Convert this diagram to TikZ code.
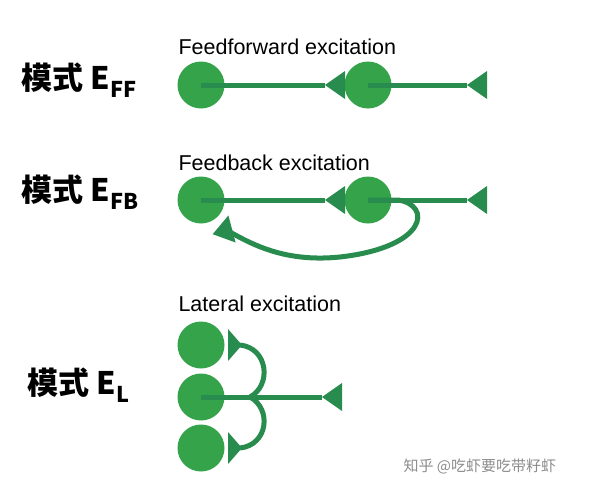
\documentclass[tikz,border=0pt]{standalone}
\usepackage{fontspec}
\setmainfont{Liberation Sans}
\newfontfamily\cjk{Noto Sans CJK SC}
\usetikzlibrary{positioning}
\definecolor{cellgreen}{RGB}{52,163,74}
\definecolor{axongreen}{RGB}{40,140,78}
\newcommand\synapse[2]{\fill[axongreen,shift={(#1)},rotate=#2] (0,-14) -- (0,14) -- (-20,0) -- cycle;}
\newcommand\lsynapse[2]{\fill[axongreen,shift={(#1)},rotate=#2] (0,-16) -- (0,16) -- (-14,0) -- cycle;}
\begin{document}
\begin{tikzpicture}[x=1pt,y=-1pt,
        cell/.style={circle,fill=cellgreen,minimum size=47pt,inner sep=0pt},
        axon/.style={draw=axongreen,line width=5pt},
        title/.style={anchor=west,font=\fontsize{21.5}{24}\selectfont},
        mode/.style={anchor=west,font=\cjk\bfseries\fontsize{31}{33}\selectfont}]
\useasboundingbox (0,0) rectangle (600,493);

% feedforward
\node[title] (tff) at (175,47) {Feedforward excitation};
\node[mode] (mff) at (18,80) {模式 E\textsubscript{FF}};
\node[cell] (ff1) at (201,85) {};
\node[cell] (ff2) at (368,85) {};
\coordinate (ffs1) at (345,85);
\coordinate (ffs2) at (487,85);
\draw[axon] (ff1.center) -- ++(124,0);
\draw[axon] (ff2.center) -- ++(99,0);
\synapse{ffs1}{0}
\synapse{ffs2}{0}

% feedback
\node[title] (tfb) at (175,163) {Feedback excitation};
\node[mode] (mfb) at (18,192) {模式 E\textsubscript{FB}};
\node[cell] (fb1) at (201,200) {};
\node[cell] (fb2) at (368,200) {};
\coordinate (fbs1) at (345,200);
\coordinate (fbs2) at (487,200);
\coordinate (fbs3) at (232,229);
\draw[axon] (fb2.center) -- ++(30,0) .. controls (432,205) and (428,247) .. (340,257)
    .. controls (290,262) and (258,248) .. (230,232);
\draw[axon] (fb1.center) -- ++(124,0);
\draw[axon] (fb2.center) -- ++(99,0);
\synapse{fbs1}{0}
\synapse{fbs2}{0}
\synapse{fbs3}{15}

% lateral
\node[title] (tl) at (175,304) {Lateral excitation};
\node[mode] (ml) at (24,385) {模式 E\textsubscript{L}};
\node[cell] (l1) at (201,345) {};
\node[cell] (l2) at (201,397) {};
\node[cell] (l3) at (201,448) {};
\coordinate (ls1) at (342,397);
\coordinate (ls2) at (228,345);
\coordinate (ls3) at (228,448);
\draw[axon] (l2.center) -- ++(121,0);
\draw[axon] (240,345) .. controls (268,348) and (272,385) .. (250,397);
\draw[axon] (240,448) .. controls (268,445) and (272,409) .. (250,397);
\synapse{ls1}{0}
\lsynapse{ls2}{180}
\lsynapse{ls3}{180}

\node[anchor=west,text=black!45,font=\cjk\fontsize{15}{17}\selectfont] (wm) at (400,466) {知乎 @吃虾要吃带籽虾};
\end{tikzpicture}
\end{document}
